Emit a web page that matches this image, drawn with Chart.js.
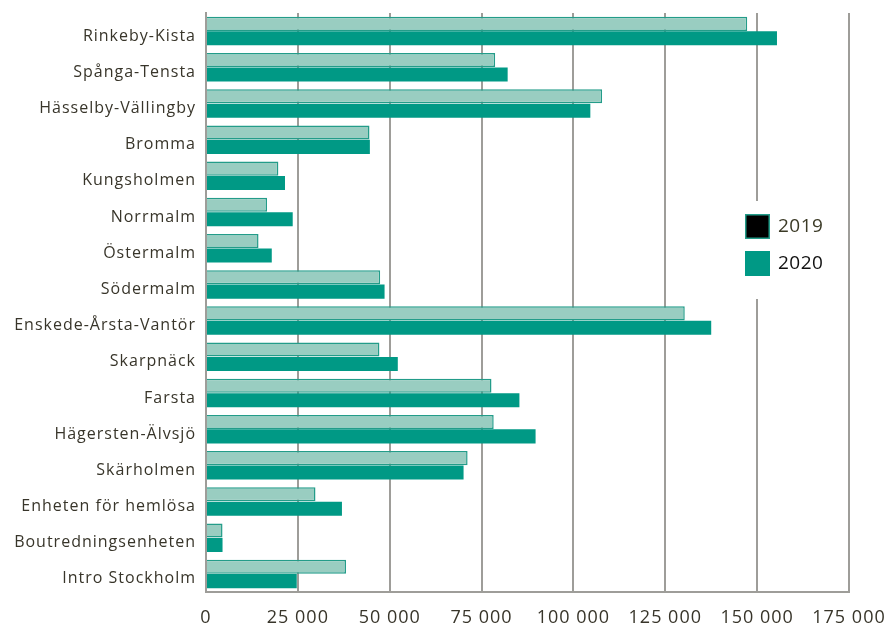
<!DOCTYPE html>
<html>
<head>
<meta charset="utf-8">
<script src="https://cdn.jsdelivr.net/npm/chart.js@4/dist/chart.umd.min.js"></script>
<style>
html,body{margin:0;padding:0;background:#fff;}
#wrap{width:886px;height:626px;position:relative;}
</style>
</head>
<body>
<div id="wrap"><canvas id="c" width="886" height="626"></canvas></div>
<script>
const categories = [
  "Rinkeby-Kista","Spånga-Tensta","Hässelby-Vällingby","Bromma","Kungsholmen",
  "Norrmalm","Östermalm","Södermalm","Enskede-Årsta-Vantör","Skarpnäck",
  "Farsta","Hägersten-Älvsjö","Skärholmen","Enheten för hemlösa",
  "Boutredningsenheten","Intro Stockholm"
];
const values2019 = [147300,78700,107800,44500,19700,16600,14300,47400,130300,47200,77700,78300,71200,29800,4500,38100];
const values2020 = [155400,82100,104600,44600,21500,23600,17900,48600,137500,52200,85300,89700,70100,37000,4500,24700];
const seriesNames = ["2019","2020"];
const xTicks = [0,25000,50000,75000,100000,125000,150000,175000];

const FONT = "'Open Sans', sans-serif";
const TEXT = "#38352a";
const C19_FILL = "#99cdc1", C19_BORDER = "#239c89", C20 = "#009985";

function fmt(v){ return String(v).replace(/\B(?=(\d{3})+(?!\d))/g, " "); }

const spacingPlugin = {
  id: 'spacing',
  beforeUpdate(chart){ chart.ctx.letterSpacing = '1px'; },
  beforeLayout(chart){ chart.ctx.letterSpacing = '1px'; },
  beforeDraw(chart){ chart.ctx.letterSpacing = '1px'; }
};

const legendPlugin = {
  id: 'boxLegend',
  afterDraw(chart){
    const ctx = chart.ctx, a = chart.chartArea;
    const lx = a.right - 110, ly = a.top + 188;
    ctx.save();
    ctx.letterSpacing = '0.5px';
    ctx.fillStyle = "#fff";
    ctx.fillRect(lx, ly, 104, 98);
    const items = [
      {t: seriesNames[0], fill: "#000", stroke: C19_BORDER, color: "#3b3a26"},
      {t: seriesNames[1], fill: C20, stroke: null, color: "#111"}
    ];
    items.forEach((it, i) => {
      const bx = lx + 6, by = ly + 13 + i*37;
      ctx.fillStyle = it.fill;
      ctx.fillRect(bx, by, 25, 25);
      if (it.stroke){ ctx.strokeStyle = it.stroke; ctx.lineWidth = 1.5; ctx.strokeRect(bx+0.75, by+0.75, 23.5, 23.5); }
      ctx.fillStyle = it.color;
      ctx.font = "19px " + FONT;
      ctx.textBaseline = "middle";
      ctx.textAlign = "left";
      ctx.fillText(it.t, bx + 33, by + 13);
    });
    ctx.restore();
  }
};

new Chart(document.getElementById('c'), {
  type: 'bar',
  data: {
    labels: categories,
    datasets: [
      {label: seriesNames[0], data: values2019, backgroundColor: C19_FILL, borderColor: C19_BORDER, borderWidth: 1.5, borderSkipped: 'start', categoryPercentage: 0.8, barPercentage: 0.97},
      {label: seriesNames[1], data: values2020, backgroundColor: C20, borderWidth: 0, categoryPercentage: 0.8, barPercentage: 0.97}
    ]
  },
  options: {
    indexAxis: 'y',
    responsive: false,
    animation: false,
    layout: {padding: {top: 13, right: 0, bottom: 0, left: 0}},
    plugins: {legend: {display: false}, tooltip: {enabled: false}},
    scales: {
      x: {
        min: 0, max: 175000,
        afterBuildTicks(s){ s.ticks = xTicks.map(v => ({value: v})); },
        afterFit(s){ s.height = 34; s.paddingRight = 37; s.paddingLeft = 0; },
        ticks: {callback: v => fmt(v), color: TEXT, font: {family: FONT, size: 18}, padding: 15, maxRotation: 0, autoSkip: false},
        grid: {color: "#9e9d99", lineWidth: 2, drawTicks: false},
        border: {color: "#9e9d99", width: 2}
      },
      y: {
        afterFit(s){ s.width = 206; s.paddingTop = 0; s.paddingBottom = 0; },
        ticks: {color: TEXT, font: {family: FONT, size: 16}, padding: 10, labelOffset: 5, autoSkip: false},
        grid: {display: false, drawTicks: false},
        border: {color: "#9e9d99", width: 2}
      }
    }
  },
  plugins: [spacingPlugin, legendPlugin]
});
</script>
</body>
</html>
